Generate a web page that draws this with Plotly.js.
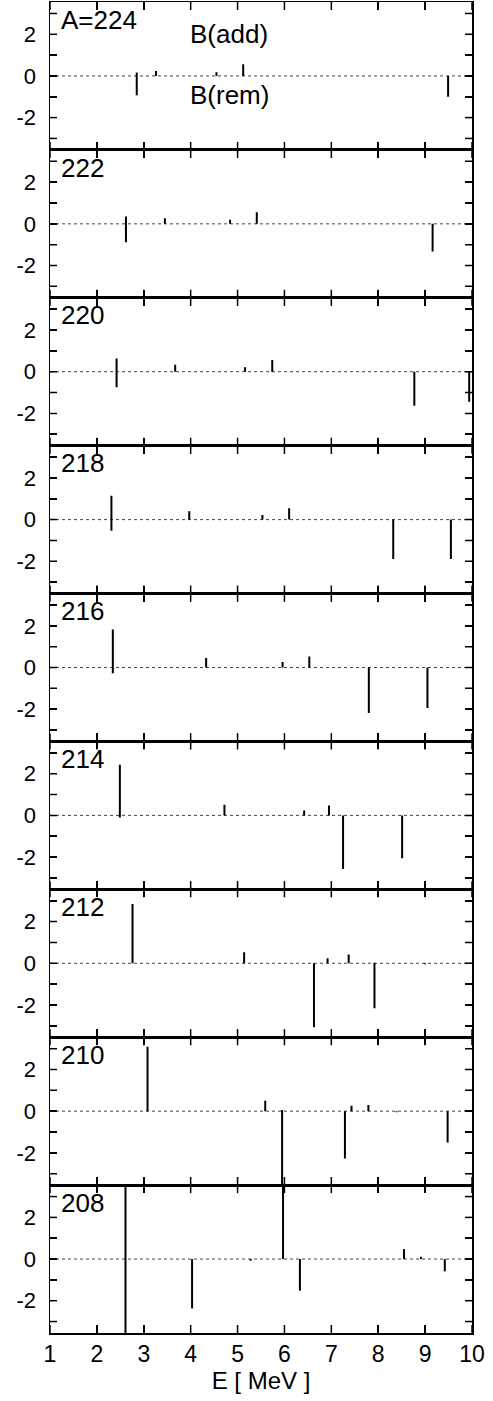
<!DOCTYPE html>
<html>
<head>
<meta charset="utf-8">
<script src="https://cdn.plot.ly/plotly-3.0.1.min.js"></script>
</head>
<body style="margin:0">
<div id="chart" style="width:493px;height:1401px"></div>
<script>
// Panel labels (mass number A), top to bottom
const panelLabels = ['A=224', '222', '220', '218', '216', '214', '212', '210', '208'];

// Energies [MeV], B(add) (upward part) and B(rem) (downward part) of each line
const E_224 = [2.85, 3.26, 4.55, 5.12, 9.49];
const Badd_224 = [0.16, 0.24, 0.18, 0.56, 0];
const Brem_224 = [0.93, 0, 0, 0, 1.0];

const E_222 = [2.62, 3.45, 4.84, 5.41, 9.16];
const Badd_222 = [0.35, 0.27, 0.2, 0.56, 0];
const Brem_222 = [0.88, 0, 0, 0, 1.33];

const E_220 = [2.42, 3.67, 5.16, 5.74, 8.77, 9.94];
const Badd_220 = [0.64, 0.34, 0.21, 0.56, 0, 0];
const Brem_220 = [0.75, 0, 0, 0, 1.63, 1.44];

const E_218 = [2.31, 3.97, 5.53, 6.10, 8.32, 9.55];
const Badd_218 = [1.15, 0.4, 0.22, 0.54, 0, 0];
const Brem_218 = [0.53, 0, 0, 0, 1.89, 1.89];

const E_216 = [2.34, 4.33, 5.96, 6.53, 7.80, 9.05];
const Badd_216 = [1.82, 0.46, 0.26, 0.53, 0, 0];
const Brem_216 = [0.27, 0, 0, 0, 2.19, 1.94];

const E_214 = [2.49, 4.72, 6.42, 6.95, 7.25, 8.51];
const Badd_214 = [2.43, 0.51, 0.24, 0.48, 0, 0];
const Brem_214 = [0.1, 0, 0, 0, 2.58, 2.06];

const E_212 = [2.76, 5.14, 6.63, 6.92, 7.37, 7.92, 9.00];
const Badd_212 = [2.85, 0.53, 0, 0.24, 0.42, 0.03, 0];
const Brem_212 = [0, 0, 3.07, 0, 0, 2.16, 0.05];

const E_210 = [3.08, 5.59, 5.95, 7.29, 7.43, 7.79, 8.39, 9.48];
const Badd_210 = [3.09, 0.5, 0.05, 0, 0.26, 0.3, 0, 0];
const Brem_210 = [0, 0, 3.6, 2.27, 0, 0, 0.05, 1.5];

const E_208 = [2.61, 4.03, 5.28, 5.97, 6.33, 8.55, 8.91, 9.42];
const Badd_208 = [3.6, 0, 0, 4.0, 0, 0.48, 0.11, 0];
const Brem_208 = [3.6, 2.37, 0.08, 0, 1.52, 0, 0, 0.59];

const xTicks = [1, 2, 3, 4, 5, 6, 7, 8, 9, 10];
const yTickVals = [-3, -2, -1, 0, 1, 2, 3];
const yTickText = ['', '-2', '', '0', '', '2', ''];

const panels = [
  [E_224, Badd_224, Brem_224], [E_222, Badd_222, Brem_222], [E_220, Badd_220, Brem_220],
  [E_218, Badd_218, Brem_218], [E_216, Badd_216, Brem_216], [E_214, Badd_214, Brem_214],
  [E_212, Badd_212, Brem_212], [E_210, Badd_210, Brem_210], [E_208, Badd_208, Brem_208]
];

const FONT = 'Liberation Sans, Arial, sans-serif';
const X_RANGE = [1, 10], Y_RANGE = [-3.55, 3.55];
const W = 493, H = 1401, M = {l: 50, r: 21, t: 2, b: 68};
const n = panels.length;
// tick mark lengths (pixels) converted to axis units
const pxPerY = ((H - M.t - M.b) / n) / (Y_RANGE[1] - Y_RANGE[0]);
const pxPerX = (W - M.l - M.r) / (X_RANGE[1] - X_RANGE[0]);
const xTickLen = 8 / pxPerY, yTickLen = 7 / pxPerX;

const traces = [];
const layout = {width: W, height: H, margin: M, showlegend: false, annotations: []};

panels.forEach((p, i) => {
  const sfx = i === 0 ? '' : String(i + 1);
  const xa = 'x' + sfx, ya = 'y' + sfx;
  const [E, add, rem] = p;
  const xs = [], ys = [];
  E.forEach((e, k) => { xs.push(e, e, null); ys.push(-rem[k], add[k], null); });
  traces.push({type: 'scatter', mode: 'lines', x: X_RANGE, y: [0, 0], xaxis: xa, yaxis: ya,
    line: {color: '#444', width: 1, dash: 'dot'}});
  traces.push({type: 'scatter', mode: 'lines', x: xs, y: ys, xaxis: xa, yaxis: ya,
    line: {color: '#000', width: 2}});

  // inside tick marks on all four sides of the frame
  const tx = [], ty = [];
  xTicks.forEach(t => {
    tx.push(t, t, null, t, t, null);
    ty.push(Y_RANGE[0], Y_RANGE[0] + xTickLen, null, Y_RANGE[1], Y_RANGE[1] - xTickLen, null);
  });
  yTickVals.forEach(t => {
    tx.push(X_RANGE[0], X_RANGE[0] + yTickLen, null, X_RANGE[1], X_RANGE[1] - yTickLen, null);
    ty.push(t, t, null, t, t, null);
  });
  traces.push({type: 'scatter', mode: 'lines', x: tx, y: ty, xaxis: xa, yaxis: ya,
    line: {color: '#000', width: 1.5}});

  const top = 1 - i / n, bot = 1 - (i + 1) / n;
  const isBottom = i === n - 1;
  const xaxis = {domain: [0, 1], anchor: ya, range: X_RANGE, tickmode: 'array', tickvals: xTicks,
    ticks: 'inside', ticklen: 8, tickwidth: 1.5, tickcolor: '#000',
    showline: true, linewidth: 1.5, linecolor: '#000', mirror: 'allticks',
    showgrid: false, zeroline: false, showticklabels: isBottom,
    tickfont: {size: 23, family: FONT, color: '#000'}};
  if (isBottom) xaxis.title = {text: 'E [ MeV ]', font: {size: 24, family: FONT, color: '#000'}, standoff: 4};
  const yaxis = {domain: [bot, top], anchor: xa, range: Y_RANGE,
    tickmode: 'array', tickvals: yTickVals, ticktext: yTickText,
    ticks: 'inside', ticklen: 7, tickwidth: 1.5, tickcolor: '#000',
    showline: true, linewidth: 1.5, linecolor: '#000', mirror: 'allticks',
    showgrid: false, zeroline: false, ticklabelstandoff: 8,
    tickfont: {size: 22, family: FONT, color: '#000'}};
  layout['xaxis' + sfx] = xaxis;
  layout['yaxis' + sfx] = yaxis;
  layout.annotations.push({xref: xa, yref: ya, x: 1.2, y: 2.7, xanchor: 'left', yanchor: 'middle',
    text: panelLabels[i], showarrow: false, font: {size: 26, family: FONT, color: '#000'}});
  if (i === 0) {
    layout.annotations.push({xref: xa, yref: ya, x: 3.94, y: 2.0, xanchor: 'left', yanchor: 'middle',
      text: 'B(add)', showarrow: false, font: {size: 26, family: FONT, color: '#000'}});
    layout.annotations.push({xref: xa, yref: ya, x: 3.94, y: -0.9, xanchor: 'left', yanchor: 'middle',
      text: 'B(rem)', showarrow: false, font: {size: 26, family: FONT, color: '#000'}});
  }
});

Plotly.newPlot('chart', traces, layout, {staticPlot: true});
</script>
</body>
</html>
